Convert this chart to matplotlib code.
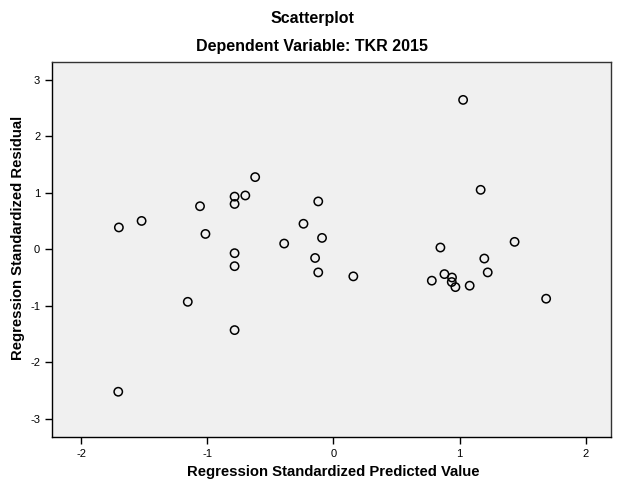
import matplotlib
matplotlib.use("Agg")
import matplotlib.pyplot as plt

plt.rcParams['font.family'] = ['Liberation Sans', 'DejaVu Sans']

predicted = [-1.70, -1.52, -1.057, -1.014, -0.783, -0.783, -0.698, -0.783, -0.783,
             -0.62, -0.12, -0.237, -0.09, -0.39, -0.145, -0.12, -1.154, -0.783,
             -1.705, 1.028, 1.167, 0.848, 1.436, 1.196, 0.158, 1.223, 0.78,
             0.88, 0.94, 0.938, 0.967, 1.08, 1.686]
residual = [0.385, 0.50, 0.76, 0.27, 0.93, 0.80, 0.95, -0.07, -0.30,
            1.275, 0.845, 0.45, 0.20, 0.10, -0.155, -0.41, -0.93, -1.43,
            -2.52, 2.64, 1.05, 0.03, 0.13, -0.165, -0.48, -0.41, -0.556,
            -0.44, -0.50, -0.58, -0.67, -0.645, -0.875]
x_ticks = [-2, -1, 0, 1, 2]
y_ticks = [-3, -2, -1, 0, 1, 2, 3]

fig = plt.figure(figsize=(6.24, 4.92), dpi=100)
fig.patch.set_facecolor('white')
ax = fig.add_axes([52/624, 1-437/492, 559/624, 375/492])
ax.set_facecolor('#F0F0F0')
ax.scatter(predicted, residual, s=36, facecolors='none', edgecolors='black', linewidths=1.1, zorder=3)

ax.set_xlim(-2.23, 2.2)
ax.set_ylim(-3.32, 3.31)
ax.set_xticks(x_ticks)
ax.set_yticks(y_ticks)
ax.set_xticklabels([str(t) for t in x_ticks])
ax.set_yticklabels([str(t) for t in y_ticks])
ax.tick_params(axis='both', direction='out', length=5, width=1, labelsize=8, colors='black')
ax.tick_params(top=False, right=False)
for s in ax.spines.values():
    s.set_color('black')
    s.set_linewidth(1)
ax.spines['top'].set_color('#333333')
ax.spines['right'].set_color('#333333')

ax.set_xlabel('Regression Standardized Predicted Value', fontsize=10.7, fontweight='bold')
ax.xaxis.set_label_coords((333 - 52) / 559, -(472 - 437) / 375)
ax.xaxis.label.set_va('center')
ax.set_ylabel('Regression Standardized Residual', fontsize=10.7, fontweight='bold')
ax.yaxis.set_label_coords((18 - 52) / 559, (437 - 238) / 375)
ax.yaxis.label.set_va('center')

fig.text(0.5, 1-18/492, 'Scatterplot', ha='center', va='center', fontsize=11.5, fontweight='bold')
fig.text(0.5, 1-47/492, 'Dependent Variable: TKR 2015', ha='center', va='center', fontsize=11.5, fontweight='bold')

fig.savefig('out.png', dpi=100)
